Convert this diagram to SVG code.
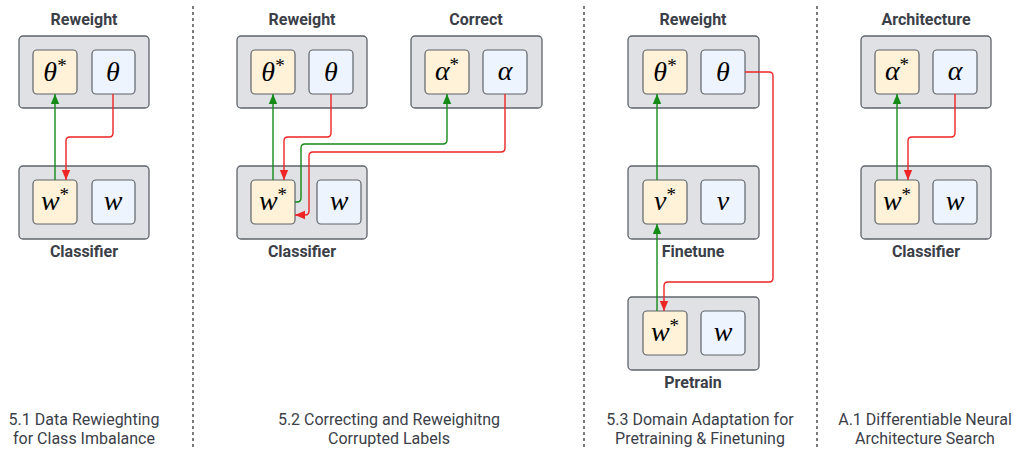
<svg xmlns="http://www.w3.org/2000/svg" width="1016" height="449" viewBox="0 0 1016 449">
<style>
.outer{fill:#dfe1e5;stroke:#5f646b;stroke-width:1.3}
.opt{fill:#fff2d9;stroke:#5f646b;stroke-width:1.2}
.par{fill:#edf4fe;stroke:#5f646b;stroke-width:1.2}
.title{font-family:Roboto,"Liberation Sans",Arial,sans-serif;font-weight:bold;font-size:16px;fill:#3b4048;text-anchor:middle}
.cap{font-family:Roboto,"Liberation Sans",Arial,sans-serif;font-size:16px;fill:#3b4048;text-anchor:middle}
.m{font-family:"Liberation Serif","DejaVu Serif",serif;font-style:italic;font-size:28px;fill:#000;text-anchor:middle}
.s{font-size:19px;font-style:normal}
.g{fill:none;stroke:#158a17;stroke-width:1.4;marker-end:url(#ag)}
.r{fill:none;stroke:#ee2525;stroke-width:1.4;marker-end:url(#ar)}
.div{stroke:#444;stroke-width:1.4;stroke-dasharray:3 3}
</style>
<defs>
<marker id="ag" markerWidth="10" markerHeight="10" refX="10" refY="5" orient="auto" markerUnits="userSpaceOnUse"><path d="M0,0.8 L10,5 L0,9.2 Z" fill="#158a17"/></marker>
<marker id="ar" markerWidth="10" markerHeight="10" refX="10" refY="5" orient="auto" markerUnits="userSpaceOnUse"><path d="M0,0.8 L10,5 L0,9.2 Z" fill="#ee2525"/></marker>
</defs>
<rect width="1016" height="449" fill="#fff"/>

<g id="dividers">
<line class="div" x1="193" y1="6" x2="193" y2="449"/>
<line class="div" x1="584" y1="6" x2="584" y2="449"/>
<line class="div" x1="817" y1="6" x2="817" y2="449"/>
</g>

<!-- Panel 1 -->
<g id="p1-reweight">
<text class="title" x="84" y="25">Reweight</text>
<rect class="outer" x="19" y="36" width="130" height="72" rx="4"/>
<rect class="opt" x="33" y="50" width="44" height="44" rx="4"/>
<text class="m" x="55" y="81">θ<tspan class="s" dy="-9">*</tspan></text>
<rect class="par" x="92" y="50" width="43" height="44" rx="4"/>
<text class="m" x="113" y="81">θ</text>
</g>
<g id="p1-classifier">
<rect class="outer" x="19" y="166" width="130" height="73" rx="4"/>
<rect class="opt" x="33" y="180" width="44" height="44" rx="4"/>
<text class="m" x="55" y="210">w<tspan class="s" dy="-9">*</tspan></text>
<rect class="par" x="92" y="180" width="43" height="44" rx="4"/>
<text class="m" x="113" y="210">w</text>
<text class="title" x="84" y="257">Classifier</text>
</g>
<g id="p1-caption">
<text class="cap" x="84" y="425">5.1 Data Rewieghting</text>
<text class="cap" x="84" y="444">for Class Imbalance</text>
</g>

<!-- Panel 2 -->
<g id="p2-reweight">
<text class="title" x="302" y="25">Reweight</text>
<rect class="outer" x="237" y="36" width="130" height="72" rx="4"/>
<rect class="opt" x="251" y="50" width="44" height="44" rx="4"/>
<text class="m" x="273" y="81">θ<tspan class="s" dy="-9">*</tspan></text>
<rect class="par" x="309" y="50" width="44" height="44" rx="4"/>
<text class="m" x="331" y="81">θ</text>
</g>
<g id="p2-correct">
<text class="title" x="476" y="25">Correct</text>
<rect class="outer" x="411" y="36" width="131" height="72" rx="4"/>
<rect class="opt" x="425" y="50" width="44" height="44" rx="4"/>
<text class="m" x="447" y="80">α<tspan class="s" dy="-9">*</tspan></text>
<rect class="par" x="483" y="50" width="44" height="44" rx="4"/>
<text class="m" x="505" y="80">α</text>
</g>
<g id="p2-classifier">
<rect class="outer" x="237" y="166" width="130" height="73" rx="4"/>
<rect class="opt" x="251" y="180" width="44" height="44" rx="4"/>
<text class="m" x="273" y="210">w<tspan class="s" dy="-9">*</tspan></text>
<rect class="par" x="317" y="180" width="44" height="44" rx="4"/>
<text class="m" x="339" y="210">w</text>
<text class="title" x="302" y="257">Classifier</text>
</g>
<g id="p2-caption">
<text class="cap" x="389" y="425">5.2 Correcting and Reweighitng</text>
<text class="cap" x="389" y="444">Corrupted Labels</text>
</g>

<!-- Panel 3 -->
<g id="p3-reweight">
<text class="title" x="693" y="25">Reweight</text>
<rect class="outer" x="628" y="36" width="131" height="72" rx="4"/>
<rect class="opt" x="643" y="50" width="44" height="44" rx="4"/>
<text class="m" x="665" y="81">θ<tspan class="s" dy="-9">*</tspan></text>
<rect class="par" x="701" y="50" width="44" height="44" rx="4"/>
<text class="m" x="723" y="81">θ</text>
</g>
<g id="p3-finetune">
<rect class="outer" x="628" y="166" width="131" height="73" rx="4"/>
<rect class="opt" x="643" y="180" width="44" height="44" rx="4"/>
<text class="m" x="665" y="210">v<tspan class="s" dy="-9">*</tspan></text>
<rect class="par" x="701" y="180" width="44" height="44" rx="4"/>
<text class="m" x="723" y="210">v</text>
<text class="title" x="693" y="257">Finetune</text>
</g>
<g id="p3-pretrain">
<rect class="outer" x="628" y="297" width="131" height="73" rx="4"/>
<rect class="opt" x="643" y="311" width="44" height="44" rx="4"/>
<text class="m" x="665" y="341">w<tspan class="s" dy="-9">*</tspan></text>
<rect class="par" x="701" y="311" width="44" height="44" rx="4"/>
<text class="m" x="723" y="341">w</text>
<text class="title" x="693" y="388">Pretrain</text>
</g>
<g id="p3-caption">
<text class="cap" x="700" y="425">5.3 Domain Adaptation for</text>
<text class="cap" x="700" y="444">Pretraining &amp; Finetuning</text>
</g>

<!-- Panel 4 -->
<g id="p4-architecture">
<text class="title" x="926" y="25">Architecture</text>
<rect class="outer" x="861" y="36" width="130" height="72" rx="4"/>
<rect class="opt" x="875" y="50" width="44" height="44" rx="4"/>
<text class="m" x="897" y="80">α<tspan class="s" dy="-9">*</tspan></text>
<rect class="par" x="933" y="50" width="44" height="44" rx="4"/>
<text class="m" x="955" y="80">α</text>
</g>
<g id="p4-classifier">
<rect class="outer" x="861" y="166" width="130" height="73" rx="4"/>
<rect class="opt" x="875" y="180" width="44" height="44" rx="4"/>
<text class="m" x="897" y="210">w<tspan class="s" dy="-9">*</tspan></text>
<rect class="par" x="933" y="180" width="44" height="44" rx="4"/>
<text class="m" x="955" y="210">w</text>
<text class="title" x="926" y="257">Classifier</text>
</g>
<g id="p4-caption">
<text class="cap" x="925" y="425">A.1 Differentiable Neural</text>
<text class="cap" x="925" y="444">Architecture Search</text>
</g>

<g id="connectors">
<path class="g" d="M55,180 V94"/>
<path class="r" d="M113,94 V133 Q113,137 109,137 H70 Q66,137 66,141 V180"/>

<path class="g" d="M273,180 V94"/>
<path class="r" d="M331,94 V133 Q331,137 327,137 H288 Q284,137 284,141 V180"/>
<path class="g" d="M295,202 H297 Q301,202 301,198 V148 Q301,144 305,144 H443 Q447,144 447,140 V94"/>
<path class="r" d="M505,94 V148 Q505,152 501,152 H313 Q309,152 309,156 V211 Q309,215 305,215 H295"/>

<path class="g" d="M657,180 V94"/>
<path class="g" d="M657,311 V224"/>
<path class="r" d="M745,72 H769 Q773,72 773,76 V278 Q773,282 769,282 H668 Q664,282 664,286 V311"/>

<path class="g" d="M897,180 V94"/>
<path class="r" d="M955,94 V133 Q955,137 951,137 H912 Q908,137 908,141 V180"/>
</g>
</svg>
